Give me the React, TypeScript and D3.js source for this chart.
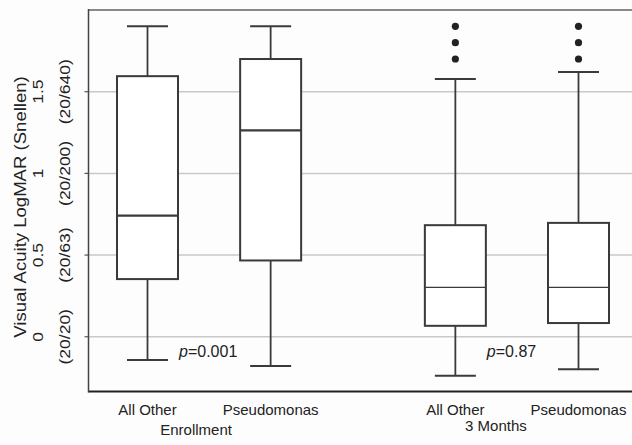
import React from 'react';
import * as d3 from 'd3';

// Boxes: group, category, whisker low, Q1, median, Q3, whisker high
const groups = ['Enrollment', '3 Months'];
const categories = ['All Other', 'Pseudomonas'];
const boxGroup = ['Enrollment', 'Enrollment', '3 Months', '3 Months'];
const boxCategory = ['All Other', 'Pseudomonas', 'All Other', 'Pseudomonas'];
const whiskerLow = [-0.142, -0.179, -0.238, -0.199];
const q1 = [0.353, 0.467, 0.067, 0.084];
const median = [0.742, 1.263, 0.302, 0.302];
const q3 = [1.595, 1.70, 0.683, 0.697];
const whiskerHigh = [1.9, 1.9, 1.578, 1.62];
const outliers = [[], [], [1.9, 1.8, 1.7], [1.9, 1.8, 1.7]];

const yTicks = [0, 0.5, 1, 1.5];
const snellenLabels = ['(20/20)', '(20/63)', '(20/200)', '(20/640)'];
const pValues = ['0.001', '0.87'];

const App = () => {
  const ref = React.useRef(null);

  React.useEffect(() => {
    while (ref.current && ref.current.firstChild) {
      ref.current.removeChild(ref.current.firstChild);
    }

    const width = 632;
    const height = 445;
    const left = 88.5;
    const top = 10;
    const bottom = 391.5;
    const font = 'Liberation Sans, Arial, Helvetica, sans-serif';

    const svg = d3.select(ref.current)
      .append('svg')
      .attr('width', width)
      .attr('height', height)
      .style('position', 'absolute')
      .style('left', 0)
      .style('top', 0)
      .style('background', '#fdfdfd')
      .style('font-family', font);

    const y = d3.scaleLinear().domain([-0.335, 2.0]).range([bottom, top]);

    // slot positions: two boxes per group, wider gap between groups
    const slot = (i) => Math.floor(i / 2) * 2.5 + (i % 2);
    const x = d3.scaleLinear().domain([0, 3.5]).range([147.5, 578.5]);
    const boxW = 61;
    const capW = 41;

    // gridlines
    svg.append('g')
      .selectAll('line')
      .data(yTicks)
      .join('line')
      .attr('x1', left)
      .attr('x2', width)
      .attr('y1', (d) => y(d))
      .attr('y2', (d) => y(d))
      .attr('stroke', '#c9c9c9')
      .attr('stroke-width', 1.5);

    // frame
    svg.append('line')
      .attr('x1', left).attr('x2', width)
      .attr('y1', top).attr('y2', top)
      .attr('stroke', '#8a8a8a').attr('stroke-width', 2);
    svg.append('line')
      .attr('x1', left).attr('x2', width)
      .attr('y1', bottom).attr('y2', bottom)
      .attr('stroke', '#222').attr('stroke-width', 2);
    svg.append('line')
      .attr('x1', left).attr('x2', left)
      .attr('y1', top - 1).attr('y2', bottom + 1)
      .attr('stroke', '#444').attr('stroke-width', 1.5);

    // y ticks
    svg.append('g')
      .selectAll('line')
      .data(yTicks)
      .join('line')
      .attr('x1', left - 4)
      .attr('x2', left)
      .attr('y1', (d) => y(d))
      .attr('y2', (d) => y(d))
      .attr('stroke', '#555')
      .attr('stroke-width', 1.2);

    // y tick labels (rotated, two rows, stretched along the text like the original)
    const tickG = svg.append('g')
      .attr('font-size', 14)
      .attr('fill', '#222')
      .attr('text-anchor', 'middle');
    tickG.selectAll('text.val')
      .data(yTicks)
      .join('text')
      .attr('class', 'val')
      .attr('transform', (d) => `translate(38,${y(d)}) rotate(-90) scale(1.25,1)`)
      .attr('dy', '0.35em')
      .text((d) => String(d));
    tickG.selectAll('text.snel')
      .data(yTicks)
      .join('text')
      .attr('class', 'snel')
      .attr('transform', (d) => `translate(65,${y(d)}) rotate(-90) scale(1.25,1)`)
      .attr('dy', '0.35em')
      .text((d, i) => snellenLabels[i]);

    // y title
    svg.append('text')
      .attr('transform', `translate(20,${207}) rotate(-90) scale(1.16,1)`)
      .attr('text-anchor', 'middle')
      .attr('dy', '0.35em')
      .attr('font-size', 16)
      .attr('fill', '#222')
      .text('Visual Acuity LogMAR (Snellen)');

    const boxes = boxCategory.map((c, i) => ({
      group: boxGroup[i],
      category: c,
      cx: x(slot(i)),
      lo: whiskerLow[i],
      q1: q1[i],
      med: median[i],
      q3: q3[i],
      hi: whiskerHigh[i],
      out: outliers[i],
    }));

    const stroke = '#3a3a3a';
    const bg = svg.append('g');

    // whiskers
    bg.selectAll('line.wl')
      .data(boxes)
      .join('line')
      .attr('x1', (d) => d.cx).attr('x2', (d) => d.cx)
      .attr('y1', (d) => y(d.lo)).attr('y2', (d) => y(d.q1))
      .attr('stroke', stroke).attr('stroke-width', 1.8);
    bg.selectAll('line.wh')
      .data(boxes)
      .join('line')
      .attr('x1', (d) => d.cx).attr('x2', (d) => d.cx)
      .attr('y1', (d) => y(d.hi)).attr('y2', (d) => y(d.q3))
      .attr('stroke', stroke).attr('stroke-width', 1.8);
    bg.selectAll('line.cl')
      .data(boxes.flatMap((d) => [{ cx: d.cx, v: d.lo }, { cx: d.cx, v: d.hi }]))
      .join('line')
      .attr('x1', (d) => d.cx - capW / 2).attr('x2', (d) => d.cx + capW / 2)
      .attr('y1', (d) => y(d.v)).attr('y2', (d) => y(d.v))
      .attr('stroke', stroke).attr('stroke-width', 2);

    // boxes
    bg.selectAll('rect')
      .data(boxes)
      .join('rect')
      .attr('x', (d) => d.cx - boxW / 2)
      .attr('y', (d) => y(d.q3))
      .attr('width', boxW)
      .attr('height', (d) => y(d.q1) - y(d.q3))
      .attr('fill', '#fff')
      .attr('stroke', stroke)
      .attr('stroke-width', 2);

    // medians
    bg.selectAll('line.med')
      .data(boxes)
      .join('line')
      .attr('x1', (d) => d.cx - boxW / 2).attr('x2', (d) => d.cx + boxW / 2)
      .attr('y1', (d) => y(d.med)).attr('y2', (d) => y(d.med))
      .attr('stroke', stroke)
      .attr('stroke-width', (d) => (d.group === groups[0] ? 2.2 : 1.3));

    // outliers
    bg.selectAll('circle')
      .data(boxes.flatMap((d) => d.out.map((v) => ({ cx: d.cx, v }))))
      .join('circle')
      .attr('cx', (d) => d.cx)
      .attr('cy', (d) => y(d.v))
      .attr('r', 3.6)
      .attr('fill', '#222');

    // p-values
    groups.forEach((g, gi) => {
      const first = boxes.find((b) => b.group === g);
      const t = svg.append('text')
        .attr('x', first.cx + boxW / 2 + 1)
        .attr('y', 357)
        .attr('font-size', 16)
        .attr('fill', '#222');
      t.append('tspan').attr('font-style', 'italic').text('p');
      t.append('tspan').text('=' + pValues[gi]);
    });

    // category labels
    svg.append('g')
      .selectAll('text')
      .data(boxes)
      .join('text')
      .attr('x', (d) => d.cx)
      .attr('y', 415)
      .attr('text-anchor', 'middle')
      .attr('font-size', 15)
      .attr('fill', '#222')
      .text((d) => d.category);

    // group labels
    svg.append('g')
      .selectAll('text')
      .data(groups)
      .join('text')
      .attr('x', (g, gi) => (x(gi * 2.5) + x(gi * 2.5 + 1)) / 2 - (gi === 0 ? 13 : 21))
      .attr('y', (g, gi) => (gi === 0 ? 435 : 431))
      .attr('text-anchor', 'middle')
      .attr('font-size', 15)
      .attr('fill', '#222')
      .text((g) => g);
  }, []);

  return <div ref={ref} />;
};

export default App;
